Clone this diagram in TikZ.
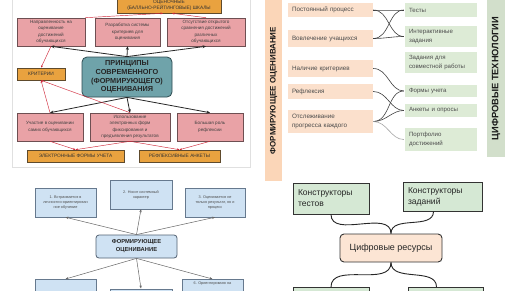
\documentclass[tikz,border=0pt]{standalone}
\usepackage{fontspec}
\setmainfont{Liberation Sans}
\usetikzlibrary{arrows.meta,positioning}
\definecolor{cOr}{HTML}{E9A23F}
\definecolor{cOrD}{HTML}{5E4A2C}
\definecolor{cPk}{HTML}{E9A2A6}
\definecolor{cPkD}{HTML}{6E4F52}
\definecolor{cTe}{HTML}{6FA3AA}
\definecolor{cTeD}{HTML}{2E4B50}
\definecolor{cRd}{HTML}{D0283A}
\definecolor{cPe}{HTML}{FBE0CC}
\definecolor{cGn}{HTML}{DDEBD6}
\definecolor{cBl}{HTML}{CFE2F3}
\definecolor{cBlD}{HTML}{66798E}
\definecolor{cGq}{HTML}{D5E8D4}
\definecolor{cPq}{HTML}{FCE5D4}
\tikzset{
  pinkbox/.style={draw=cPkD,fill=cPk,line width=.6pt,align=center,inner sep=1pt,
              text=black!75,font=\fontsize{4.6}{6.3}\selectfont},
  orbox/.style={draw=cOrD,fill=cOr,line width=.6pt,align=center,inner sep=1pt,
              text=black!80,font=\fontsize{4.8}{6}\selectfont},
  tealbox/.style={draw=cTeD,fill=cTe,line width=.8pt,rounded corners=5pt,align=center,
              inner sep=1pt,text=black!85,font=\bfseries\fontsize{7.3}{8.8}\selectfont},
  blkarrow/.style={-{Stealth[length=3.5pt,width=3pt]},line width=.8pt,black!85},
  redarrow/.style={-{Stealth[length=2.5pt,width=2pt]},line width=.45pt,cRd},
  lbox/.style={fill=cPe,align=left,text width=77pt,inner xsep=4pt,inner ysep=0pt,
              text=black!70,font=\fontsize{6.3}{9}\selectfont},
  rbox/.style={fill=cGn,align=left,text width=64pt,inner xsep=4pt,inner ysep=0pt,
              text=black!70,font=\fontsize{6.1}{9}\selectfont},
  sbar/.style={rotate=90,inner sep=0pt,text=black!90},
  curvy/.style={line width=.6pt,black!75,shorten >=1pt},
  qbox/.style={draw=cBlD,fill=cBl,line width=.5pt,align=center,inner sep=1pt,
              text=black!70,font=\fontsize{3.8}{5}\selectfont},
  fobox/.style={draw=cBlD!80!black,fill=cBl,line width=.8pt,rounded corners=3pt,align=center,
              inner sep=1pt,text=black!85,font=\bfseries\fontsize{5.8}{8}\selectfont},
  garrow/.style={-{Stealth[length=3pt,width=2.4pt]},line width=.5pt,black!60},
  kbox/.style={draw=black!80,fill=cGq,line width=.8pt,align=left,inner xsep=5pt,
              text=black!85,font=\fontsize{8.5}{11}\selectfont},
  resbox/.style={draw=black!80,fill=cPq,line width=.9pt,rounded corners=4pt,
              text=black!85,font=\fontsize{9}{11}\selectfont},
  wire/.style={line width=.9pt,black!85},
}
\begin{document}
\begin{tikzpicture}[x=1pt,y=1pt]
  \useasboundingbox (0,0) rectangle (516,290);
  \clip (0,0) rectangle (516,290);
  \fill[white] (0,0) rectangle (516,290);
  % principles of modern assessment
  \draw[black!12,line width=.6pt] (12,292) rectangle (250,123);
  \node[orbox,minimum width=104pt,minimum height=15pt] (scale) at (169,284.5)
    {ОЦЕНОЧНЫЕ\\(БАЛЛЬНО-РЕЙТИНГОВЫЕ) ШКАЛЫ};
  \node[pinkbox,minimum width=68pt,minimum height=28pt] (dir) at (51,258)
    {Направленность на\\оценивание\\достижений\\обучающихся};
  \node[pinkbox,minimum width=65pt,minimum height=28pt] (sys) at (127.5,258)
    {Разработка системы\\критериев для\\оценивания};
  \node[pinkbox,minimum width=78pt,minimum height=28pt] (cmp) at (206,258)
    {Отсутствие открытого\\сравнения достижений\\различных\\обучающихся};
  \node[orbox,minimum width=48pt,minimum height=12pt] (crit) at (41,216) {КРИТЕРИИ};
  \node[tealbox,minimum width=90pt,minimum height=40pt] (pr) at (127,213)
    {ПРИНЦИПЫ\\СОВРЕМЕННОГО\\(ФОРМИРУЮЩЕГО)\\ОЦЕНИВАНИЯ};
  \node[pinkbox,minimum width=66pt,minimum height=28pt] (part) at (50,163)
    {Участие в оценивании\\самих обучающихся};
  \node[pinkbox,minimum width=80pt,minimum height=28pt] (elf) at (130,163)
    {Использование\\электронных форм\\фиксирования и\\предъявления результатов};
  \node[pinkbox,minimum width=66pt,minimum height=28pt] (rol) at (210,163)
    {Большая роль\\рефлексии};
  \node[orbox,minimum width=97pt,minimum height=12pt] (acc) at (75.5,134)
    {ЭЛЕКТРОННЫЕ ФОРМЫ УЧЕТА};
  \node[orbox,minimum width=81pt,minimum height=12pt] (ank) at (179.5,134)
    {РЕФЛЕКСИВНЫЕ АНКЕТЫ};
  \foreach \t in {dir,sys,cmp}{\draw[blkarrow] (pr.north) -- (\t.south);}
  \foreach \t in {part,elf,rol}{\draw[blkarrow] (pr.south) -- (\t.north);}
  \draw[redarrow] (dir.north east) -- ([xshift=-6pt]scale.south);
  \draw[redarrow] (cmp.north) -- ([xshift=3pt]scale.south);
  \draw[redarrow] (dir.south) -- (crit.north);
  \draw[redarrow] (part.north) -- (crit.south);
  \draw[redarrow] (elf.north) -- (crit.south);
  \draw[redarrow] (part.south) -- (acc.north);
  \draw[redarrow] (elf.south) -- (acc.north);
  \draw[redarrow] (elf.south) -- (ank.north);
  \draw[redarrow] (rol.south) -- (ank.north);
  % formative assessment vs digital tools
  \node[sbar,fill=cPe!90!orange,minimum width=181pt,minimum height=17pt,
    font=\bfseries\fontsize{8}{9}\selectfont] (fbar) at (273.5,199.5) {ФОРМИРУЮЩЕЕ ОЦЕНИВАНИЕ};
  \node[sbar,fill=cGn!95!black,minimum width=157pt,minimum height=18pt,
    font=\bfseries\fontsize{9.3}{10}\selectfont] (dbar) at (496,211.5) {ЦИФРОВЫЕ ТЕХНОЛОГИИ};
  \node[lbox,minimum height=14pt] (p1) at (330.5,280) {Постоянный процесс};
  \node[lbox,minimum height=17pt] (p2) at (330.5,251.5) {Вовлечение учащихся};
  \node[lbox,minimum height=17pt] (p3) at (330.5,221.5) {Наличие критериев};
  \node[lbox,minimum height=15pt] (p4) at (330.5,198.5) {Рефлексия};
  \node[lbox,minimum height=23pt] (p5) at (330.5,168.5) {Отслеживание\\прогресса каждого};
  \node[rbox,minimum height=14pt] (t1) at (441,280) {Тесты};
  \node[rbox,minimum height=21pt] (t2) at (441,253.5) {Интерактивные\\задания};
  \node[rbox,minimum height=21pt] (t3) at (441,227.5) {Задания для\\совместной работы};
  \node[rbox,minimum height=12pt] (t4) at (441,199) {Формы учета};
  \node[rbox,minimum height=13pt] (t5) at (441,179.5) {Анкеты и опросы};
  \node[rbox,minimum height=23pt] (t6) at (441,150.5) {Портфолио\\достижений};
  \foreach \a/\b in {p1/t1,p1/t2,p2/t1,p2/t2,p3/t4,p4/t5,p5/t4,p5/t5}
    {\draw[curvy] (\a.east) to[out=0,in=180] (\b.west);}
  \draw[curvy,black!35] (p5.east) to[out=0,in=180] (t6.west);
  % formative assessment features
  \node[qbox,minimum width=61pt,minimum height=29pt] (f1) at (65.5,87.5)
    {1. Встраивается в\\личностно-ориентирован\\ное обучение};
  \node[qbox,minimum width=62pt,minimum height=29pt] (f2) at (141,95.5)
    {2. Носит системный\\характер};
  \node[qbox,minimum width=60pt,minimum height=29pt] (f3) at (215,87.5)
    {3. Оценивается не\\только результат, но и\\процесс};
  \node[fobox,minimum width=81pt,minimum height=23pt] (fo) at (136.5,43.5)
    {ФОРМИРУЮЩЕЕ\\ОЦЕНИВАНИЕ};
  \node[qbox,anchor=north,minimum width=61pt,minimum height=22pt] (f4) at (65.5,11) {};
  \node[qbox,anchor=north,minimum width=62pt,minimum height=22pt] (f5) at (141,1.5) {};
  \node[qbox,anchor=north,minimum width=61pt,text depth=14pt,inner ysep=2.5pt] (f6) at (212.5,11)
    {6. Ориентировано на};
  \foreach \t in {f1,f2,f3}{\draw[garrow] (fo.north) -- (\t.south);}
  \foreach \t in {f4,f5,f6}{\draw[garrow] (fo.south) -- (\t.north);}
  % digital resources
  \node[kbox,text width=66pt,minimum height=31pt] (kt) at (331,91.5) {Конструкторы\\тестов};
  \node[kbox,text width=69pt,minimum height=29pt] (kz) at (442.5,93.5) {Конструкторы\\заданий};
  \node[resbox,minimum width=102pt,minimum height=28pt] (res) at (391,42) {Цифровые ресурсы};
  \node[kbox,anchor=north,text width=66pt,minimum height=26pt] (k3) at (331,3) {};
  \node[kbox,anchor=north,text width=65pt,minimum height=26pt] (k4) at (445.5,3) {};
  \draw[wire] (kt.south) to[out=-90,in=90] (res.north);
  \draw[wire] ([xshift=-9pt]kz.south) to[out=-90,in=90] (res.north);
  \draw[wire] (res.south) to[out=-90,in=90] (k3.north);
  \draw[wire] (res.south) to[out=-90,in=90] ([xshift=-9pt]k4.north);
\end{tikzpicture}
\end{document}
